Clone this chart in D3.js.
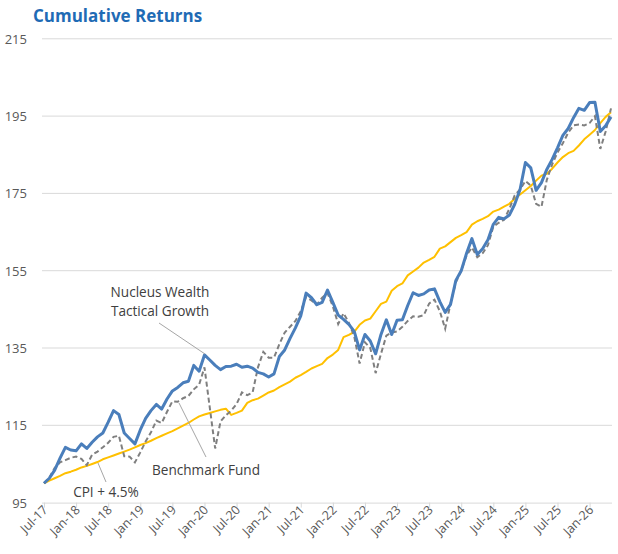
<!DOCTYPE html>
<html>
<head>
<meta charset="utf-8">
<script src="https://cdn.jsdelivr.net/npm/d3@7"></script>
<style>
  body { margin: 0; background: #fff; }
  svg text { font-family: "Open Sans", "Noto Sans", sans-serif; }
</style>
</head>
<body>
<div id="chart"></div>
<script>
// monthly values from Jul-17
var tickLabels = ["Jul-17","Jan-18","Jul-18","Jan-19","Jul-19","Jan-20","Jul-20","Jan-21","Jul-21",
  "Jan-22","Jul-22","Jan-23","Jul-23","Jan-24","Jul-24","Jan-25","Jul-25","Jan-26"];
var yTicks = [95, 115, 135, 155, 175, 195, 215];

var nucleus = [100,101.3,103.4,106.5,109.3,108.6,108.4,110.2,109,110.6,112,113,115.8,118.8,117.8,113,
  111.6,110.2,113.8,116.8,118.8,120.4,119.2,121.8,123.9,124.8,126,126.4,130.5,129,133.2,131.9,130.5,
  129.4,130.2,130.3,130.8,130,130.3,129.8,128.7,128.3,127.5,128.3,132.8,134.5,137.5,140.2,143.3,149.2,
  148,146.2,146.8,150,146.8,143.5,142.4,141.1,139.3,134.5,138.5,136.8,133.5,138.5,142.3,138.5,142.2,
  142.3,146,149.3,148.6,149,150,150.3,147,144.2,146.3,152.5,155,159.5,163.3,159.2,160.7,163,167,168.8,
  168.4,169.4,172.2,176,183,181.6,175.8,177.8,181.2,183.8,186.8,190,191.8,194.6,197,196.5,198.5,198.6,
  191,192.5,194.8];

var benchmark = [100,101.5,104,105.4,106,106.6,106.9,106.3,104.7,107.4,108.2,109.3,110.5,112,112.3,107,
  106.9,105.4,108,110.8,113.2,116.2,115.6,118.5,121.2,121.1,122,122.6,124.3,125.5,130,119.5,109,116,
  117.6,118.8,120.5,123.5,122.8,123.5,130,134,132.5,132.5,136,139,140.5,142,144.5,148.2,147.3,146.2,
  148,149.2,145.8,141.2,144,141.5,138,131,136.5,135,128.5,133.5,138.2,139,139.3,140.5,142,143.2,143.1,
  143.5,146.5,147.5,144.5,140,146.5,152,155,159,161,158.5,159.5,161.6,166.4,167.4,168.2,171,174.5,176,
  178.2,177,172.3,171.5,178.5,182.5,185.6,188,190.7,192.6,192.8,192.6,193.2,195,186.5,191,197];

var cpi = [100,100.7,101.3,101.9,102.6,103,103.5,104.1,104.5,105,105.5,106.2,106.7,107.2,107.7,108.2,
  108.7,109.3,109.9,110.4,111,111.7,112.3,112.9,113.5,114.2,114.9,115.6,116.5,117.3,117.8,118.2,118.6,
  119,119.3,117.7,118.2,118.8,120.8,121.5,121.9,122.7,123.5,124,124.9,125.6,126.3,127.3,128,128.8,
  129.7,130.3,130.9,132.4,133.3,134.5,137.8,138.4,139.2,141,142.1,142.6,144.5,146.4,147,149.8,151,
  151.7,153.8,154.8,155.8,157.1,157.8,158.6,160.7,161.3,162.4,163.5,164.2,165,166.9,167.8,168.4,169.1,
  170.3,170.8,171.6,172.3,173.6,174.7,175.8,176.9,178.3,179.6,180.1,181.4,183,184.4,185.4,186,187.4,
  189,190.2,191.4,193.2,194.8,196];

var W = 618, H = 554;
var svg = d3.select("#chart").append("svg").attr("width", W).attr("height", H);

var x = d3.scaleLinear().domain([0, nucleus.length - 1]).range([44, 611]);
var y = d3.scaleLinear().domain([95, 215]).range([502.6, 38.8]);

svg.append("text")
  .attr("x", 33).attr("y", 22)
  .attr("font-size", 17).attr("font-weight", "bold")
  .attr("fill", "#1f6bb5")
  .text("Cumulative Returns");

// gridlines
svg.selectAll(".grid").data(yTicks.slice(1)).enter().append("line")
  .attr("x1", 42).attr("x2", 612)
  .attr("y1", function(d) { return y(d); }).attr("y2", function(d) { return y(d); })
  .attr("stroke", "#d9d9d9").attr("stroke-width", 1);

svg.selectAll(".ylab").data(yTicks).enter().append("text")
  .attr("x", 27).attr("y", function(d) { return y(d) + 5; })
  .attr("text-anchor", "end").attr("font-size", 13).attr("fill", "#595959")
  .text(function(d) { return d; });

// x axis
var xAxis = d3.axisBottom(x)
  .tickValues(d3.range(0, tickLabels.length * 6, 6))
  .tickFormat(function(d, i) { return tickLabels[i]; })
  .tickSize(5).tickSizeOuter(0);
var gx = svg.append("g").attr("transform", "translate(0," + y(95) + ")").call(xAxis);
gx.select(".domain").attr("stroke", "#d9d9d9").attr("d", "M42,0.5H612");
gx.selectAll(".tick line").attr("stroke", "#d9d9d9");
gx.selectAll(".tick text")
  .attr("font-size", 12.5).attr("fill", "#595959")
  .attr("text-anchor", "end")
  .attr("transform", "translate(1,5) rotate(-45)")
  .attr("dy", "0.35em").attr("y", 0).attr("x", 0);

var line = d3.line().x(function(d, i) { return x(i); }).y(function(d) { return y(d); });

svg.append("path").datum(cpi).attr("d", line)
  .attr("fill", "none").attr("stroke", "#ffc000").attr("stroke-width", 2).attr("stroke-linejoin", "round");
svg.append("path").datum(benchmark).attr("d", line)
  .attr("fill", "none").attr("stroke", "#7f7f7f").attr("stroke-width", 2)
  .attr("stroke-dasharray", "5,3");
svg.append("path").datum(nucleus).attr("d", line)
  .attr("fill", "none").attr("stroke", "#4a7ebb").attr("stroke-width", 3).attr("stroke-linejoin", "round");

// labels with leader lines
var notes = [
  {lines: ["Nucleus Wealth", "Tactical Growth"], tx: 160, ty: 297, from: [159, 323], to: [205, 354]},
  {lines: ["Benchmark Fund"], tx: 206, ty: 475, from: [206, 457], to: [179, 403]},
  {lines: ["CPI + 4.5%"], tx: 106, ty: 497, from: [106, 482], to: [98, 463]}
];
notes.forEach(function(n) {
  svg.append("line")
    .attr("x1", n.from[0]).attr("y1", n.from[1]).attr("x2", n.to[0]).attr("y2", n.to[1])
    .attr("stroke", "#a6a6a6").attr("stroke-width", 1);
  n.lines.forEach(function(t, i) {
    svg.append("text").attr("x", n.tx).attr("y", n.ty + i * 19)
      .attr("text-anchor", "middle").attr("font-size", 13.6).attr("fill", "#404040")
      .text(t);
  });
});
</script>
</body>
</html>
